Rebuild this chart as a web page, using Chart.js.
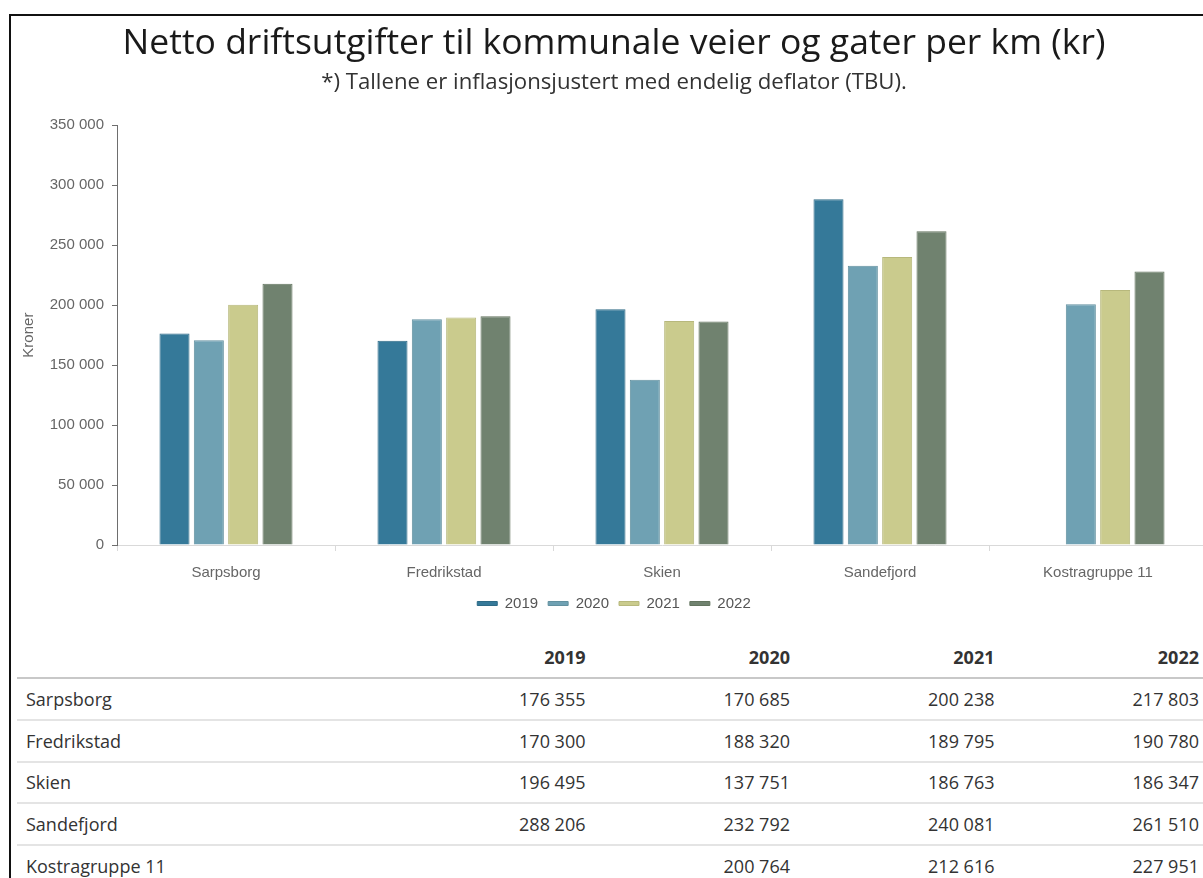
<!DOCTYPE html>
<html lang="no">
<head>
<meta charset="utf-8">
<title>Netto driftsutgifter til kommunale veier og gater per km (kr)</title>
<script src="https://cdn.jsdelivr.net/npm/chart.js@4.4.1/dist/chart.umd.min.js"></script>
<style>
  html, body { margin: 0; padding: 0; background: #fff; overflow: hidden; width: 1203px; height: 878px; }
  #frame { position: absolute; left: 9px; top: 14px; width: 2000px; height: 2000px;
           border-left: 2px solid #111; border-top: 2px solid #111; pointer-events: none; z-index: 5; }
  #chart { position: absolute; left: 11px; top: 16px; }
  #tbl { position: absolute; left: 17px; top: 636px; width: 1190px;
         font-family: "Open Sans", sans-serif; font-size: 18px; color: #333; }
  .row { display: flex; box-sizing: border-box; height: 41.8px; align-items: center;
         border-bottom: 2px solid #e4e4e4; }
  .row.head { height: 43px; border-bottom-color: #c8c8c8; font-weight: bold; }
  .cell { box-sizing: border-box; width: 204.5px; padding: 0 8px; text-align: right; white-space: nowrap; }
  .cell.name { width: 372px; padding-left: 9px; text-align: left; }
</style>
</head>
<body>
<div id="frame"></div>
<canvas id="chart" width="1206" height="605"></canvas>
<div id="tbl"></div>
<script>
// Categories (municipalities / group) and years
const categories = ['Sarpsborg', 'Fredrikstad', 'Skien', 'Sandefjord', 'Kostragruppe 11'];
const years = ['2019', '2020', '2021', '2022'];

// Net operating expenditure per km, kroner
const values2019 = [176355, 170300, 196495, 288206, null];
const values2020 = [170685, 188320, 137751, 232792, 200764];
const values2021 = [200238, 189795, 186763, 240081, 212616];
const values2022 = [217803, 190780, 186347, 261510, 227951];

// Value axis range
const yMin = 0;
const yMax = 350000;
const yStep = 50000;

const seriesValues = [values2019, values2020, values2021, values2022];
const fills = ['#357999', '#6fa1b3', '#cacb8d', '#70826f'];
const edges = ['#2e6a86', '#62909f', '#b7b87c', '#63745f'];

// Norwegian number format: space as thousands separator
function fmt(v) {
  return String(Math.round(v)).replace(/\B(?=(\d{3})+(?!\d))/g, ' ');
}
function fmtTable(v) {
  return v == null ? '' : String(Math.round(v)).replace(/\B(?=(\d{3})+(?!\d))/g, '\u00a0');
}

const axisFont = { family: '"Liberation Sans", Arial, sans-serif', size: 15 };

new Chart(document.getElementById('chart'), {
  type: 'bar',
  data: {
    labels: categories,
    datasets: seriesValues.map((vals, i) => ({
      label: years[i],
      data: vals,
      backgroundColor: fills[i],
      borderColor: edges[i],
      borderWidth: 1,
      categoryPercentage: 0.63,
      barPercentage: 0.875
    }))
  },
  options: {
    responsive: false,
    animation: false,
    devicePixelRatio: 1,
    layout: { padding: 0 },
    plugins: {
      title: {
        display: true,
        text: 'Netto driftsutgifter til kommunale veier og gater per km (kr)',
        color: '#1a1a1a',
        font: { family: '"Open Sans", sans-serif', size: 35.5, weight: 'normal' },
        padding: { top: 7, bottom: 0 }
      },
      subtitle: {
        display: true,
        text: '*) Tallene er inflasjonsjustert med endelig deflator (TBU).',
        color: '#333',
        font: { family: '"Open Sans", sans-serif', size: 22.2, weight: 'normal' },
        padding: { top: 4, bottom: 29 }
      },
      legend: {
        position: 'bottom',
        labels: { boxWidth: 20, boxHeight: 4, padding: 10, color: '#555', font: axisFont }
      },
      tooltip: { enabled: false }
    },
    scales: {
      x: {
        grid: { display: true, drawOnChartArea: false, drawTicks: true, tickLength: 6, color: '#d9d9d9' },
        border: { display: true, color: '#d9d9d9', width: 1 },
        ticks: { color: '#666', font: axisFont, padding: 13, maxRotation: 0, autoSkip: false },
        afterFit(s) { s.height -= 9; }
      },
      y: {
        min: yMin,
        max: yMax,
        ticks: { stepSize: yStep, color: '#666', font: axisFont, padding: 8, callback: v => fmt(v) },
        grid: { display: true, drawOnChartArea: false, drawTicks: true, tickLength: 5, color: '#6e6e6e' },
        border: { display: true, color: '#6e6e6e', width: 1 },
        title: { display: true, text: 'Kroner', color: '#666', font: axisFont, padding: { top: 9, bottom: 0 } },
        afterFit(s) { s.width = 106; }
      },
      rightSpace: {
        type: 'linear',
        position: 'right',
        display: true,
        grid: { display: false },
        ticks: { display: false },
        border: { display: false },
        afterFit(s) { s.width = 10; }
      }
    }
  }
});

// Data table under the chart
const tbl = document.getElementById('tbl');
function addRow(cells, cls) {
  const row = document.createElement('div');
  row.className = 'row' + (cls ? ' ' + cls : '');
  cells.forEach((txt, i) => {
    const c = document.createElement('div');
    c.className = 'cell' + (i === 0 ? ' name' : '');
    c.textContent = txt;
    row.appendChild(c);
  });
  tbl.appendChild(row);
}
addRow([''].concat(years), 'head');
categories.forEach((cat, r) => {
  addRow([cat].concat(seriesValues.map(vals => fmtTable(vals[r]))));
});
</script>
</body>
</html>
